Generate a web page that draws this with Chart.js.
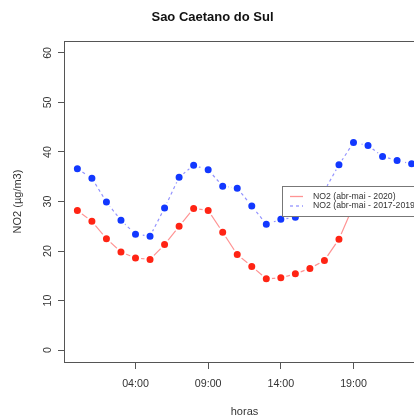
<!DOCTYPE html>
<html>
<head>
<meta charset="utf-8">
<script src="https://cdn.jsdelivr.net/npm/chart.js@4/dist/chart.umd.min.js"></script>
<style>
  html, body { margin: 0; padding: 0; background: #fff; overflow: hidden; width: 414px; height: 419px; }
  canvas { display: block; }
</style>
</head>
<body>
<canvas id="c" width="489" height="419"></canvas>
<script>
// Hourly NO2 means, Sao Caetano do Sul
const horas = [0,1,2,3,4,5,6,7,8,9,10,11,12,13,14,15,16,17,18,19,20,21,22,23];
const no2_2020 = [28.2,26.0,22.5,19.8,18.6,18.3,21.3,25.0,28.6,28.2,23.8,19.3,16.9,14.4,14.6,15.4,16.5,18.1,22.4,29.2,30.5,31.2,30.0,29.6];
const no2_2017_2019 = [36.6,34.7,29.9,26.2,23.4,23.0,28.7,34.9,37.3,36.4,33.1,32.7,29.1,25.4,26.4,26.8,29.3,32.2,37.4,41.9,41.3,39.1,38.3,37.6];
const xTickHours = [4, 9, 14, 19];
const xTickLabels = ['04:00', '09:00', '14:00', '19:00'];
const yTicks = [0, 10, 20, 30, 40, 50, 60];
const seriesLabels = ['NO2 (abr-mai - 2020)', 'NO2 (abr-mai - 2017-2019)'];

const FONT = '"Liberation Sans", Arial, Helvetica, sans-serif';
const AXIS = '#555';
const TEXT = '#333';

function pts(vals) { return horas.map((h, i) => ({ x: h, y: vals[i] })); }

// frame, rotated y labels and legend box (drawn over the plot, like base graphics)
const extras = {
  id: 'extras',
  afterDatasetsDraw(chart) {
    const ctx = chart.ctx, a = chart.chartArea, ys = chart.scales.y;
    ctx.save();
    ctx.strokeStyle = AXIS;
    ctx.lineWidth = 1;
    ctx.strokeRect(Math.round(a.left) + 0.5, Math.round(a.top) + 0.5, Math.round(a.right - a.left), Math.round(a.bottom - a.top));

    // y tick labels, parallel to the axis
    ctx.fillStyle = TEXT;
    ctx.font = '10.7px ' + FONT;
    ctx.textAlign = 'center';
    ctx.textBaseline = 'middle';
    yTicks.forEach(v => {
      const y = ys.getPixelForValue(v);
      ctx.save();
      ctx.translate(a.left - 16, y);
      ctx.rotate(-Math.PI / 2);
      ctx.fillText(String(v), 0, 0);
      ctx.restore();
    });

    // legend
    const lx = a.left + 218, ly = 186, lw = 220, lh = 30;
    ctx.fillStyle = '#fff';
    ctx.fillRect(lx, ly, lw, lh);
    ctx.strokeStyle = '#777';
    ctx.strokeRect(lx + 0.5, ly + 0.5, lw, lh);
    const rows = [ly + 10.5, ly + 20];
    chart.data.datasets.forEach((ds, i) => {
      ctx.save();
      ctx.strokeStyle = ds.borderColor;
      ctx.lineWidth = 1.3;
      ctx.setLineDash(ds.borderDash || []);
      ctx.beginPath();
      ctx.moveTo(lx + 8, rows[i]);
      ctx.lineTo(lx + 21, rows[i]);
      ctx.stroke();
      ctx.restore();
      ctx.fillStyle = TEXT;
      ctx.font = '8.7px ' + FONT;
      ctx.textAlign = 'left';
      ctx.textBaseline = 'middle';
      ctx.fillText(ds.label, lx + 31, rows[i]);
    });
    ctx.restore();
  }
};

new Chart(document.getElementById('c'), {
  type: 'line',
  data: {
    datasets: [
      {
        label: seriesLabels[0],
        data: pts(no2_2020),
        borderColor: '#ff9494',
        borderWidth: 1.2,
        pointBackgroundColor: '#ff2414',
        pointBorderColor: '#ffffff',
        pointBorderWidth: 2.2,
        pointRadius: 4.6,
        tension: 0
      },
      {
        label: seriesLabels[1],
        data: pts(no2_2017_2019),
        borderColor: '#9494ff',
        borderWidth: 1.2,
        borderDash: [3, 3],
        pointBackgroundColor: '#1238ff',
        pointBorderColor: '#ffffff',
        pointBorderWidth: 2.2,
        pointRadius: 4.6,
        tension: 0
      }
    ]
  },
  options: {
    responsive: false,
    animation: false,
    events: [],
    layout: { padding: { left: 0, right: 64, top: 0, bottom: 0 } },
    plugins: {
      legend: { display: false },
      tooltip: { enabled: false },
      title: {
        display: true,
        text: 'Sao Caetano do Sul',
        color: '#111',
        font: { family: FONT, size: 13, weight: 'bold', lineHeight: 1.2 },
        padding: { top: 9.5, bottom: 15.9 }
      }
    },
    scales: {
      x: {
        type: 'linear',
        min: -0.92,
        max: 23.92,
        afterBuildTicks(s) { s.ticks = xTickHours.map(v => ({ value: v })); },
        afterFit(s) { s.height = 57; },
        grid: { drawOnChartArea: false, drawTicks: true, tickLength: 7, color: AXIS },
        border: { display: true, color: AXIS },
        ticks: {
          color: TEXT,
          padding: 8.5,
          maxRotation: 0,
          autoSkip: false,
          font: { family: FONT, size: 10.7 },
          callback(v) { const i = xTickHours.indexOf(v); return i >= 0 ? xTickLabels[i] : ''; }
        },
        title: {
          display: true,
          text: 'horas',
          color: TEXT,
          font: { family: FONT, size: 11 },
          padding: { top: 0, bottom: 0.6 }
        }
      },
      y: {
        min: -2.4,
        max: 62.4,
        afterBuildTicks(s) { s.ticks = yTicks.map(v => ({ value: v })); },
        afterFit(s) { s.width = 64; },
        grid: { drawOnChartArea: false, drawTicks: true, tickLength: 6, color: AXIS },
        border: { display: true, color: AXIS },
        ticks: { display: false },
        title: {
          display: true,
          text: 'NO2 (µg/m3)',
          color: TEXT,
          font: { family: FONT, size: 11 },
          padding: { top: 11.4, bottom: 0 }
        }
      }
    }
  },
  plugins: [extras]
});
</script>
</body>
</html>
